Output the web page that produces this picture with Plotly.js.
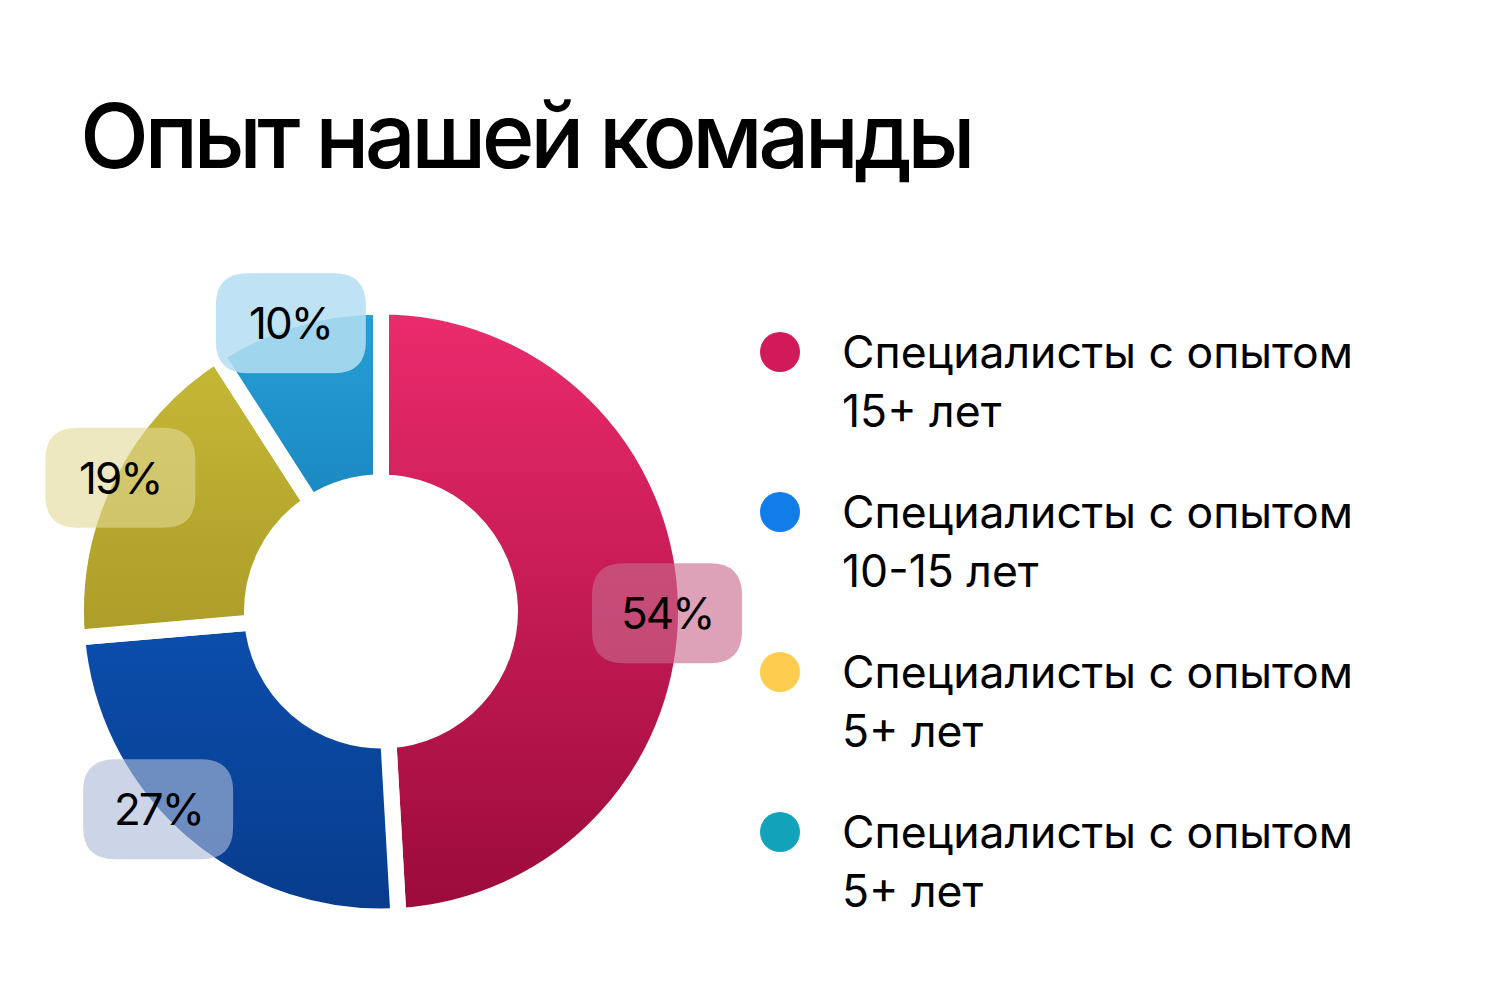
<!DOCTYPE html>
<html>
<head>
<meta charset="utf-8">
<script src="https://cdn.plot.ly/plotly-3.0.1.min.js"></script>
<style>
  html, body { margin: 0; padding: 0; background: #ffffff; }
  #chart { width: 1488px; height: 1000px; }
  #chart .gtitle { letter-spacing: -4.6px; }
</style>
</head>
<body>
<div id="chart"></div>
<script>
// ---- data ----
const chartTitle = 'Опыт нашей команды';
const legendPrefix = 'Специалисты с опытом';
const expGroups = ['15+ лет', '10-15 лет', '5+ лет', '5+ лет'];
const shares = [54, 27, 19, 10];

// ---- styles ----
const sliceColors = ['#cf1c58', '#0a479f', '#bcae31', '#2196cc'];
const sliceGradTop = ['#ec2b6d', '#0b4eac', '#c6b836', '#27a0d6'];
const sliceGradBottom = ['#9a0a3b', '#083c8c', '#ab9d28', '#1b88c1'];
const legendColors = ['#d21a5a', '#107de9', '#fecd50', '#12a3bb'];
const boxFills = ['rgba(200,105,140,0.62)', 'rgba(172,188,218,0.62)', 'rgba(226,216,150,0.6)', 'rgba(180,222,242,0.86)'];
const labelAngleNudge = [2, 7.5, 1, -1];
const labelRadius = [286, 298, 293, 302];

const W = 1488, H = 1000;
const cx = 381, cy = 611.5, R = 305;   // pie geometry in px
const gap = 16;
const boxW = 150, boxH = 100, boxRad = 32;

const px = v => v / W;
const py = v => 1 - v / H;

function roundRectPath(x, y, w, h, r) {
  const P = (a, b) => px(a).toFixed(5) + ',' + py(b).toFixed(5);
  return 'M' + P(x + r, y) + ' L' + P(x + w - r, y) +
    ' Q' + P(x + w, y) + ' ' + P(x + w, y + r) +
    ' L' + P(x + w, y + h - r) +
    ' Q' + P(x + w, y + h) + ' ' + P(x + w - r, y + h) +
    ' L' + P(x + r, y + h) +
    ' Q' + P(x, y + h) + ' ' + P(x, y + h - r) +
    ' L' + P(x, y + r) +
    ' Q' + P(x, y) + ' ' + P(x + r, y) + ' Z';
}

const total = shares.reduce((a, b) => a + b, 0);

const pieTrace = {
  type: 'pie',
  values: shares,
  labels: shares.map((v, i) => legendPrefix + ' ' + expGroups[i] + ' #' + (i + 1)),
  sort: false,
  direction: 'clockwise',
  rotation: 0,
  hole: (137 - gap / 2) / R,
  textinfo: 'none',
  hoverinfo: 'skip',
  marker: { colors: sliceColors, line: { color: '#ffffff', width: gap } },
  domain: { x: [px(cx - R), px(cx + R)], y: [py(cy + R), py(cy - R)] },
  showlegend: false
};

const shapes = [];
const annotations = [];

// percentage labels at the outer edge of each slice (angles from the data)
let cum = 0;
shares.forEach((v, i) => {
  const mid = (cum + v / 2) / total;
  cum += v;
  const th = (mid * 360 + labelAngleNudge[i]) * Math.PI / 180;
  const lx = cx + labelRadius[i] * Math.sin(th);
  const ly = cy - labelRadius[i] * Math.cos(th);
  shapes.push({
    type: 'path', xref: 'paper', yref: 'paper', layer: 'above',
    path: roundRectPath(lx - boxW / 2, ly - boxH / 2, boxW, boxH, boxRad),
    fillcolor: boxFills[i], line: { width: 0 }
  });
  annotations.push({
    xref: 'paper', yref: 'paper', x: px(lx), y: py(ly),
    xanchor: 'center', yanchor: 'middle', showarrow: false,
    text: v + '%', font: { family: 'Inter, sans-serif', size: 44, color: '#000000' }
  });
});

// custom legend
const legX = 780, legTextX = 840, legY0 = 352, legStep = 160;
expGroups.forEach((g, i) => {
  const y = legY0 + i * legStep;
  shapes.push({
    type: 'circle', xref: 'paper', yref: 'paper', layer: 'above',
    x0: px(legX - 20), x1: px(legX + 20), y0: py(y + 20), y1: py(y - 20),
    fillcolor: legendColors[i], line: { width: 0 }
  });
  annotations.push({
    xref: 'paper', yref: 'paper', x: px(legTextX), y: py(y),
    xanchor: 'left', yanchor: 'middle', showarrow: false,
    text: legendPrefix, font: { family: 'Inter, sans-serif', size: 44.5, color: '#000000' }
  });
  annotations.push({
    xref: 'paper', yref: 'paper', x: px(legTextX), y: py(y + 59),
    xanchor: 'left', yanchor: 'middle', showarrow: false,
    text: g, font: { family: 'Inter, sans-serif', size: 44.5, color: '#000000' }
  });
});

const layout = {
  width: W, height: H,
  margin: { l: 0, r: 0, t: 0, b: 0 },
  paper_bgcolor: '#ffffff',
  showlegend: false,
  title: {
    text: chartTitle,
    x: px(80), xanchor: 'left',
    y: py(136.5), yanchor: 'middle',
    font: { family: 'Inter, sans-serif', size: 90, color: '#000000', weight: 500 }
  },
  shapes: shapes,
  annotations: annotations
};

Plotly.newPlot('chart', [pieTrace], layout, { displayModeBar: false, staticPlot: true }).then(gd => {
  // vertical shading of the slices
  const svg = gd.querySelector('.main-svg');
  let defs = svg.querySelector('defs');
  const NS = 'http://www.w3.org/2000/svg';
  if (!defs) { defs = document.createElementNS(NS, 'defs'); svg.insertBefore(defs, svg.firstChild); }
  const paths = gd.querySelectorAll('.pielayer .slice path.surface');
  paths.forEach((p, i) => {
    const lg = document.createElementNS(NS, 'linearGradient');
    lg.setAttribute('id', 'sliceGrad' + i);
    lg.setAttribute('x1', '0'); lg.setAttribute('y1', '0');
    lg.setAttribute('x2', '0'); lg.setAttribute('y2', '1');
    const s1 = document.createElementNS(NS, 'stop');
    s1.setAttribute('offset', '0'); s1.setAttribute('stop-color', sliceGradTop[i]);
    const s2 = document.createElementNS(NS, 'stop');
    s2.setAttribute('offset', '1'); s2.setAttribute('stop-color', sliceGradBottom[i]);
    lg.appendChild(s1); lg.appendChild(s2);
    defs.appendChild(lg);
    p.style.fill = 'url(#sliceGrad' + i + ')';
  });
  // tighter tracking for the percentage labels
  gd.querySelectorAll('.annotation-text').forEach(t => {
    if (/%$/.test(t.textContent)) {
      t.style.letterSpacing = '-2px';
    }
  });
});
</script>
</body>
</html>
